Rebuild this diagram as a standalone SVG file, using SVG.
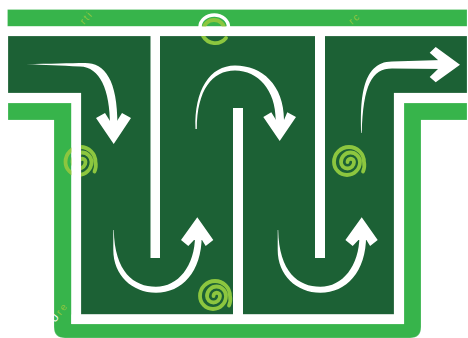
<svg xmlns="http://www.w3.org/2000/svg" width="468" height="338" viewBox="0 0 468 338">
<style>
.bar{fill:#37b44b;stroke:#fff;stroke-opacity:.35;stroke-width:.6}
.dark{fill:#1c6135;stroke:#fff;stroke-opacity:.35;stroke-width:.6}
.wall{fill:#fff}
.arrow{fill:#fff}
.sp{fill:none;stroke:#8cc63f;stroke-width:3.800;stroke-linecap:round}
.t{font-family:"Liberation Sans",Arial,sans-serif;font-size:10px;letter-spacing:2px;fill:#8cc63f}
</style>
<defs>
<path id="spiral" d="M14,9.500A15 15 0 0 0 15,0A15 15 0 0 0 -15,0A13 13 0 0 0 11,0A9.500 9.500 0 0 0 -8,0A6.500 6.500 0 0 0 5,0A3.250 3.250 0 0 0 -1.500,0"/>
<path id="uturn" d="M113.300,230V250C113.300,275 132,292.700 156,292.700C182,292.700 201.700,272 201.700,236H195C195,266 178,286.800 156,286.800C134,286.800 114.500,272 113.800,230Z"/>
<polygon id="uhead" points="197.300,217.300 181,240 188.300,246 194,240 202,240 205.700,246 213.300,240"/>
</defs>
<g id="channel">
<rect class="bar" x="7.500" y="9.500" width="459.500" height="17"/>
<path class="bar" d="M8,103H71.500V324H404V103H467V120H421V327Q421,338 410,338H65Q54,338 54,327V120H8Z"/>
<path class="dark" d="M8,36H467V93H394V314.500H81V93H8Z"/>
</g>
<g id="spiral-left"><use href="#spiral" class="sp" x="80.500" y="162"/></g>
<g id="spiral-right"><use href="#spiral" class="sp" x="349" y="162"/></g>
<g id="spiral-bottom"><use href="#spiral" class="sp" x="215" y="296"/></g>
<g id="spiral-top">
<path class="sp" d="M226,38A14 14 0 0 1 203,36"/>
<path class="sp" d="M203.500,30A10.500 10 0 0 1 224.500,30"/>
<path d="M200,27A14.200 12 0 0 1 228.500,27" fill="none" stroke="#fff" stroke-width="3.500"/>
</g>
<g id="walls">
<rect class="wall" x="0" y="26.500" width="468" height="9.500"/>
<rect class="wall" x="71.500" y="93" width="9.500" height="231"/>
<rect class="wall" x="394" y="93" width="10" height="231"/>
<rect class="wall" x="8" y="93" width="63.500" height="10"/>
<rect class="wall" x="404" y="93" width="63" height="10"/>
<rect class="wall" x="71.500" y="314.500" width="332.500" height="9.500"/>
<rect class="wall" x="150.500" y="36" width="9.500" height="222"/>
<rect class="wall" x="233" y="108" width="10" height="207"/>
<rect class="wall" x="315" y="36" width="10" height="222"/>
</g>
<g id="connectors">
<g id="arrow-1">
<path class="arrow" d="M26,64C50,64 70,63 85,63C105,63 117.500,80 117.500,125H110C110,90 100,67 80,66.500C60,65.500 45,65 26,64Z"/>
<polygon class="arrow" points="96,118 105,113 110,121 117,121 122,113 131,118 113.700,144"/>
</g>
<g id="arrow-2">
<path class="arrow" d="M195.500,129C194,90 210,65.500 235,65.500C262,65.500 284,85 284,120H275.700C275.700,90 258,70.500 235,70.500C212,70.500 197,90 196.800,129Z"/>
<polygon class="arrow" points="279.700,141 263.300,117 271.300,112.300 276,120 284,120 287.300,112.300 296,117"/>
</g>
<g id="arrow-3">
<path class="arrow" d="M361.300,133C360.500,105 360,61.500 392,61.500L442,60V69L392,68.500C372,68.500 363,85 361.800,133Z"/>
<polygon class="arrow" points="460,64.700 435.700,47 429.700,52.700 438,60 438,69 429.700,77 435.700,82.300"/>
</g>
<g id="arrow-4"><use href="#uturn" class="arrow"/><use href="#uhead" class="arrow"/></g>
<g id="arrow-5" transform="translate(164.400 0)"><use href="#uturn" class="arrow"/><use href="#uhead" class="arrow"/></g>
</g>
<g id="labels">
<text class="t" transform="translate(84 25) rotate(-48)">rti</text>
<text class="t" transform="translate(352 25) rotate(-40)">rc</text>
<text class="t" transform="translate(55 323) rotate(-52)"><tspan fill="#fff">U</tspan>re</text>
</g>
</svg>
